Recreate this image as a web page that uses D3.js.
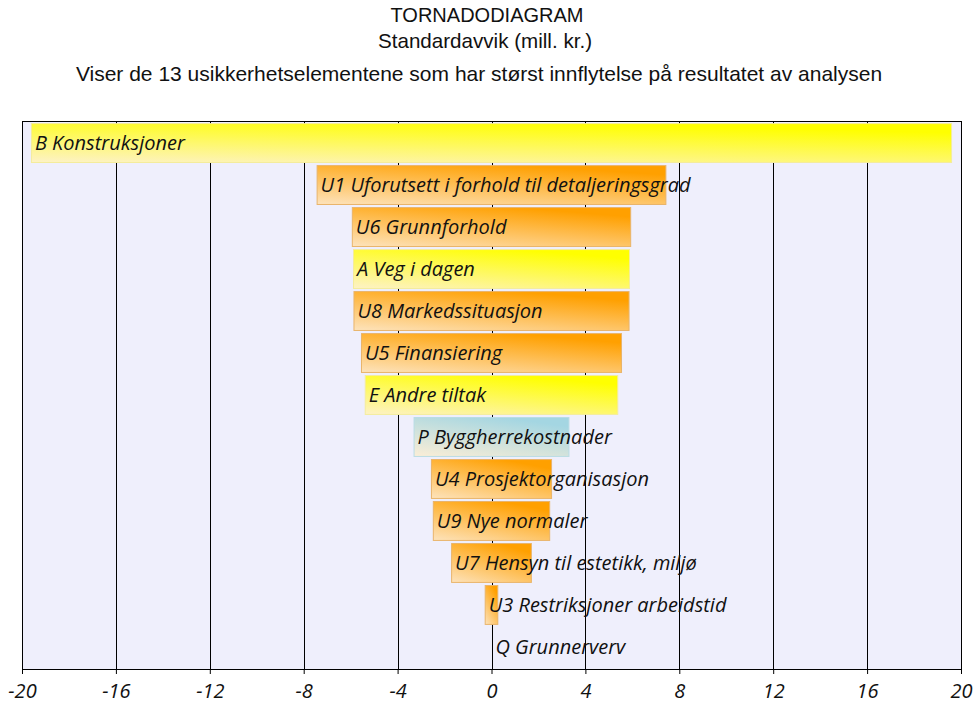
<!DOCTYPE html>
<html><head><meta charset="utf-8">
<script src="https://cdn.jsdelivr.net/npm/d3@7"></script>
<style>
body{margin:0;background:#fff;}
svg{display:block;}
</style></head>
<body>
<svg id="chart" width="978" height="703"></svg>
<script>
const labels = ["B Konstruksjoner","U1 Uforutsett i forhold til detaljeringsgrad","U6 Grunnforhold","A Veg i dagen","U8 Markedssituasjon","U5 Finansiering","E Andre tiltak","P Byggherrekostnader","U4 Prosjektorganisasjon","U9 Nye normaler","U7 Hensyn til estetikk, miljø","U3 Restriksjoner arbeidstid","Q Grunnerverv"];
const stdDev = [19.62, 7.45, 5.95, 5.9, 5.88, 5.56, 5.4, 3.32, 2.58, 2.5, 1.72, 0.29, 0];
const kinds = ["kost","usikker","usikker","kost","usikker","usikker","kost","bygg","usikker","usikker","usikker","usikker","usikker"];
const xTicks = [-20,-16,-12,-8,-4,0,4,8,12,16,20];
const titles = ["TORNADODIAGRAM","Standardavvik (mill. kr.)","Viser de 13 usikkerhetselementene som har størst innflytelse på resultatet av analysen"];

const svg = d3.select("#chart");
const L=22, R=961, T=121, B=669;
const x = d3.scaleLinear().domain([-20,20]).range([L,R]);
const y = d3.scaleBand().domain(labels).range([T,B]).paddingInner(0.05).paddingOuter(0.05);

const defs = svg.append("defs");
const pal = {
  kost:{light:"#fdf2c6", dark:"#ffff00", stroke:"#f4ec9c"},
  usikker:{light:"#fde3bc", dark:"#ffa000", stroke:"#e9b46a"},
  bygg:{light:"#fbeed6", dark:"#a4d6e2", stroke:"#b9dce4"}
};
Object.entries(pal).forEach(([k,p])=>{
  const g = defs.append("linearGradient").attr("id","g-"+k)
    .attr("x1",0).attr("y1",1).attr("x2",0.6).attr("y2",0);
  g.append("stop").attr("offset","0%").attr("stop-color",p.light);
  g.append("stop").attr("offset","100%").attr("stop-color",p.dark);
});

// titles
const tf = "'Liberation Sans', Arial, sans-serif";
const tSizes = [20, 20.6, 21];
const tY = [22, 48, 81];
const tX = [487, 485, 479];
titles.forEach((t,i)=>{
  svg.append("text").attr("x",tX[i]).attr("y",tY[i]).attr("text-anchor","middle")
    .style("font-family",tf).style("font-size",tSizes[i]+"px").attr("fill","#111").text(t);
});

// plot background
svg.append("rect").attr("x",L).attr("y",T).attr("width",R-L).attr("height",B-T).attr("fill","#efeffc");

// grid
svg.append("g").selectAll("line").data(xTicks).join("line")
  .attr("x1",d=>Math.round(x(d))+0.5).attr("x2",d=>Math.round(x(d))+0.5)
  .attr("y1",T).attr("y2",B).attr("stroke","#000").attr("stroke-width",1);

// bars
svg.append("g").selectAll("rect").data(labels).join("rect")
  .attr("x",(d,i)=>x(-stdDev[i])+0.5)
  .attr("width",(d,i)=>Math.max(0,x(stdDev[i])-x(-stdDev[i])-1))
  .attr("y",d=>y(d)+0.5).attr("height",y.bandwidth()-1)
  .attr("fill",(d,i)=>"url(#g-"+kinds[i]+")")
  .attr("stroke",(d,i)=>stdDev[i]>0?pal[kinds[i]].stroke:"none").attr("stroke-width",1);

// frame
svg.append("path").attr("d",`M${L+0.5},${B}V${T+0.5}H${R+0.5}V${B}`).attr("fill","none").attr("stroke","#000");

// x axis
const ax = svg.append("g").attr("transform",`translate(0,${B})`)
  .call(d3.axisBottom(x).tickValues(xTicks).tickSize(5).tickFormat(d=>String(d)));
ax.select(".domain").attr("stroke","#000");
ax.selectAll(".tick text").style("font-family","'Open Sans', sans-serif").style("font-style","italic")
  .style("font-size","20px").attr("fill","#111").attr("dy",null).attr("y",29);
ax.selectAll(".tick line").attr("stroke","#000");

// labels
svg.append("g").selectAll("text").data(labels).join("text")
  .attr("x",(d,i)=>x(-stdDev[i])+4)
  .attr("y",d=>y(d)+y.bandwidth()/2+7)
  .style("font-family","'Open Sans', sans-serif").style("font-style","italic")
  .style("font-size","20px").attr("fill","#111").text(d=>d);
</script>
</body></html>
